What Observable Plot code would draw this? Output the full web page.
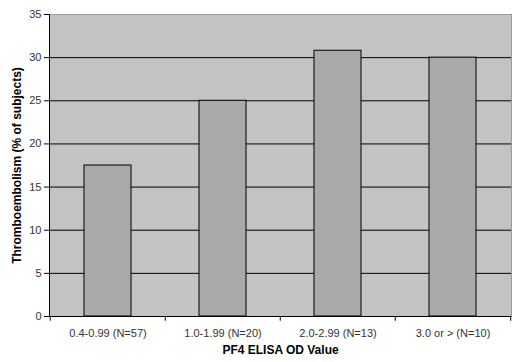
<!DOCTYPE html>
<html>
<head>
<meta charset="utf-8">
<script src="https://cdn.jsdelivr.net/npm/d3@7"></script>
<script src="https://cdn.jsdelivr.net/npm/@observablehq/plot@0.6"></script>
<style>
  html, body { margin: 0; padding: 0; background: #fff; }
  #chart { width: 520px; height: 362px; }
</style>
</head>
<body>
<div id="chart"></div>
<script>
const categories = ["0.4-0.99 (N=57)", "1.0-1.99 (N=20)", "2.0-2.99 (N=13)", "3.0 or > (N=10)"];
const values = [17.5, 25, 30.8, 30];
const yTicks = [0, 5, 10, 15, 20, 25, 30, 35];
const xTitle = "PF4 ELISA OD Value";
const yTitle = "Thromboembolism (% of subjects)";

const data = categories.map((c, i) => ({category: c, value: values[i]}));

const W = 520, H = 362;
const mL = 49, mR = 9, mT = 14, mB = 46;
const step = (W - mL - mR) / categories.length;

const chart = Plot.plot({
  width: W,
  height: H,
  marginLeft: mL,
  marginRight: mR,
  marginTop: mT,
  marginBottom: mB,
  style: {fontFamily: "Liberation Sans, Arial, sans-serif", fontSize: "11px", background: "#fff"},
  x: {domain: categories, paddingInner: 0.593, paddingOuter: 0.2965, label: null},
  y: {domain: [0, 35], label: null},
  marks: [
    Plot.frame({fill: "#c3c3c3", stroke: "#9a9a9a"}),
    Plot.gridY(yTicks.filter(t => t > 0 && t < 35), {stroke: "#000", strokeOpacity: 1, strokeWidth: 1}),
    Plot.barY(data, {x: "category", y: "value", fill: "#a9a9a9", stroke: "#000", strokeWidth: 1}),
    Plot.ruleY([0], {stroke: "#000"}),
    Plot.frame({anchor: "left", stroke: "#000"}),
    Plot.axisY({ticks: yTicks, tickSize: 5, tickPadding: 3, color: "#333", stroke: "#000", label: null, fontSize: 11}),
    Plot.axisX({tickSize: 0, tickPadding: 13, color: "#333", label: null, fontSize: 11}),
    Plot.ruleX(categories, {x: d => d, dx: -step / 2, y1: 0, y2: -0.55, stroke: "#000"}),
    Plot.ruleX([categories[categories.length - 1]], {x: d => d, dx: step / 2, y1: 0, y2: -0.55, stroke: "#000"}),
    Plot.text([yTitle], {frameAnchor: "left", textAnchor: "middle", dx: -32, rotate: -90, fontWeight: "bold", fontSize: 12, fill: "#000"}),
    Plot.text([xTitle], {frameAnchor: "bottom", dy: 37, fontWeight: "bold", fontSize: 12, fill: "#000"})
  ]
});
document.getElementById("chart").appendChild(chart);
</script>
</body>
</html>
